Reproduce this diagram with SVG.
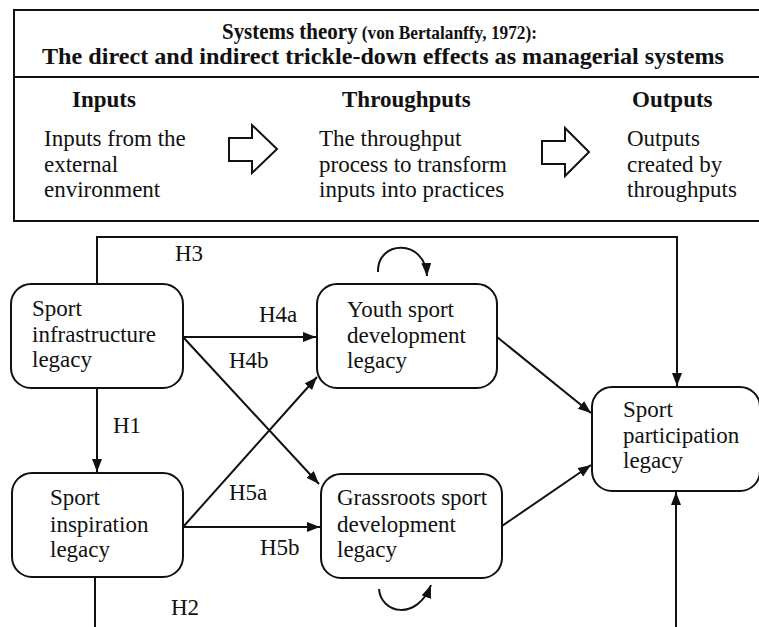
<svg xmlns="http://www.w3.org/2000/svg" width="759" height="627" viewBox="0 0 759 627">
  <style>
    text { font-family: "Liberation Serif", "Times New Roman", serif; fill: #111; }
    .t { font-size: 23px; }
    .b { font-size: 23px; font-weight: bold; }
    .node { fill: #fff; stroke: #111; stroke-width: 2; }
    .edge { fill: none; stroke: #111; stroke-width: 2; }
    .frame { fill: none; stroke: #111; stroke-width: 2; }
  </style>
  <defs>
    <marker id="arrow" markerUnits="userSpaceOnUse" markerWidth="14" markerHeight="12" refX="13" refY="5" orient="auto">
      <path d="M0,0 L13,5 L0,10 z" fill="#111"/>
    </marker>
  </defs>

  <rect width="759" height="627" fill="#fff"/>

  <!-- Systems theory panel -->
  <g id="systems-panel">
    <rect class="frame" x="14" y="10" width="760" height="211"/>
    <line class="frame" x1="14" y1="77" x2="759" y2="77"/>
    <text class="b" x="222" y="39" textLength="315" lengthAdjust="spacingAndGlyphs">Systems theory<tspan font-size="19"> (von Bertalanffy, 1972):</tspan></text>
    <text class="b" x="42" y="64" textLength="682" lengthAdjust="spacingAndGlyphs">The direct and indirect trickle-down effects as managerial systems</text>

    <text class="b" x="72" y="107">Inputs</text>
    <text class="t" x="44" y="146">Inputs from the</text>
    <text class="t" x="44" y="172">external</text>
    <text class="t" x="44" y="197">environment</text>

    <path class="edge" d="M229,138 H252 V125 L277,149 L252,173 V161 H229 Z"/>

    <text class="b" x="342" y="107">Throughputs</text>
    <text class="t" x="319" y="146">The throughput</text>
    <text class="t" x="319" y="172">process to transform</text>
    <text class="t" x="319" y="197">inputs into practices</text>

    <path class="edge" d="M542,141 H565 V128 L589,152 L565,176 V164 H542 Z"/>

    <text class="b" x="632" y="107">Outputs</text>
    <text class="t" x="627" y="146">Outputs</text>
    <text class="t" x="627" y="172">created by</text>
    <text class="t" x="627" y="197">throughputs</text>
  </g>

  <!-- Connectors -->
  <g id="connectors">
    <path class="edge" d="M97,284 V237 H677 V386" marker-end="url(#arrow)"/>
    <path class="edge" d="M97,388 V472" marker-end="url(#arrow)"/>
    <path class="edge" d="M183,337 H316" marker-end="url(#arrow)"/>
    <path class="edge" d="M183,337 L319,484" marker-end="url(#arrow)"/>
    <path class="edge" d="M183,527 L317,377" marker-end="url(#arrow)"/>
    <path class="edge" d="M183,527 H320" marker-end="url(#arrow)"/>
    <path class="edge" d="M95,577 V627"/>
    <path class="edge" d="M676,627 V492" marker-end="url(#arrow)"/>
    <path class="edge" d="M497,337 L591,413" marker-end="url(#arrow)"/>
    <path class="edge" d="M502,526 L591,465" marker-end="url(#arrow)"/>
    <path class="edge" d="M378,272 C377,240 425,238 427,276" marker-end="url(#arrow)"/>
    <path class="edge" d="M379,589 C381,614 417,621 431,585" marker-end="url(#arrow)"/>

    <text class="t" x="175" y="261">H3</text>
    <text class="t" x="259" y="322">H4a</text>
    <text class="t" x="229" y="368">H4b</text>
    <text class="t" x="113" y="433">H1</text>
    <text class="t" x="229" y="500">H5a</text>
    <text class="t" x="260" y="555">H5b</text>
    <text class="t" x="171" y="615">H2</text>
  </g>

  <g id="infrastructure">
    <rect class="node" x="11" y="284" width="172" height="104" rx="20"/>
    <text class="t" x="32" y="316">Sport</text>
    <text class="t" x="32" y="342">infrastructure</text>
    <text class="t" x="32" y="367">legacy</text>
  </g>

  <g id="inspiration">
    <rect class="node" x="12" y="473" width="171" height="104" rx="20"/>
    <text class="t" x="50" y="505">Sport</text>
    <text class="t" x="50" y="532">inspiration</text>
    <text class="t" x="50" y="557">legacy</text>
  </g>

  <g id="youth">
    <rect class="node" x="317" y="284" width="180" height="104" rx="20"/>
    <text class="t" x="347" y="317">Youth sport</text>
    <text class="t" x="347" y="343">development</text>
    <text class="t" x="347" y="368">legacy</text>
  </g>

  <g id="grassroots">
    <rect class="node" x="321" y="474" width="181" height="104" rx="20"/>
    <text class="t" x="337" y="505">Grassroots sport</text>
    <text class="t" x="337" y="532">development</text>
    <text class="t" x="337" y="557">legacy</text>
  </g>

  <g id="participation">
    <rect class="node" x="592" y="387" width="168" height="104" rx="20"/>
    <text class="t" x="623" y="417">Sport</text>
    <text class="t" x="623" y="443">participation</text>
    <text class="t" x="623" y="468">legacy</text>
  </g>
</svg>
